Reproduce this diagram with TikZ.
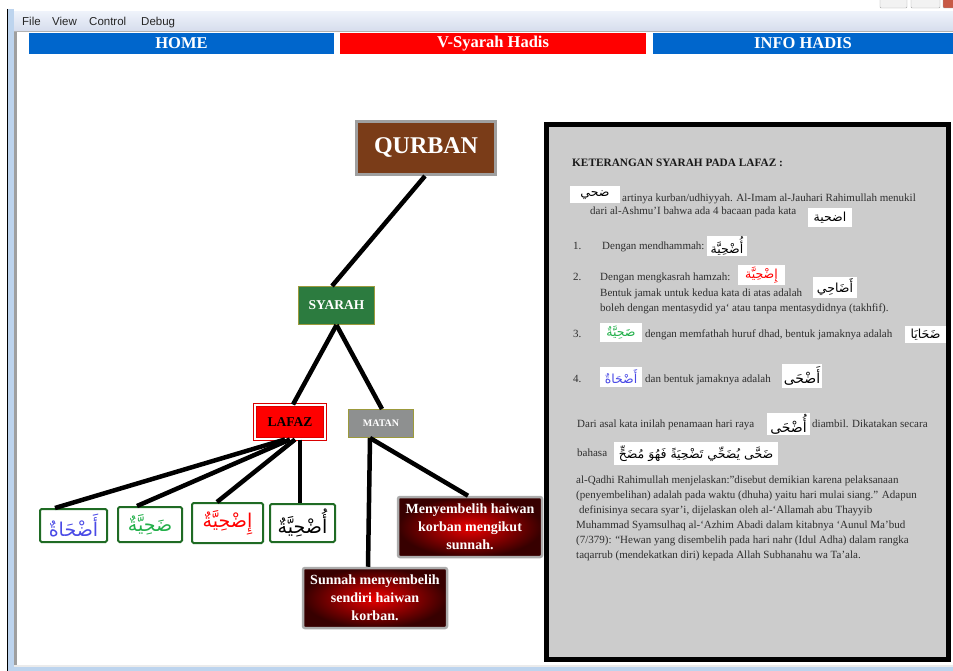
\documentclass[tikz,border=0pt]{standalone}
\usepackage{fontspec}
\setmainfont{Liberation Serif}
\newfontfamily\arabicfont[Script=Arabic]{DejaVu Sans}
\newfontfamily\uifont{Liberation Sans}
\TeXXeTstate=1
\usetikzlibrary{calc}
\definecolor{tabblue}{HTML}{0066CC}
\definecolor{tabred}{HTML}{FF0000}
\definecolor{qbrown}{HTML}{7A3C18}
\definecolor{sgreen}{HTML}{2C7B3F}
\definecolor{olivec}{HTML}{9C9A3C}
\definecolor{mgray}{HTML}{8E9090}
\definecolor{panelgray}{HTML}{CCCCCC}
\definecolor{frameblue}{HTML}{BDD4EE}
\definecolor{txt}{HTML}{2E2E2E}
\definecolor{aboxc}{HTML}{1F6B24}
\definecolor{arblue}{HTML}{4A4AE6}
\definecolor{argreen}{HTML}{22B04A}
\definecolor{menutop}{HTML}{EEF2FA}
\definecolor{menubot}{HTML}{D6DDED}
\newcommand\arword[1]{{\arabicfont\beginR #1\endR}}
\begin{document}
\begin{tikzpicture}[x=1pt,y=-1pt,
  tabbox/.style={minimum height=21pt, inner sep=0pt, text=white,
    font=\bfseries\fontsize{16.5}{16.5}\selectfont},
  conn/.style={line width=4.5pt, black},
  arbig/.style={draw=aboxc, line width=2pt, fill=white, rounded corners=1.5pt,
    inner sep=0pt, font=\arabicfont\fontsize{19}{19}\selectfont},
  gradbox/.style={rounded corners=2pt, draw=gray!65, line width=2.5pt,
    inner color={rgb,255:red,235;green,0;blue,0},
    outer color={rgb,255:red,55;green,0;blue,0},
    minimum width=144pt, minimum height=60pt, align=center,
    text=white, font=\bfseries\fontsize{14}{18}\selectfont, inner sep=0pt},
  arin/.style={fill=white, inner sep=0pt, text=black,
    font=\arabicfont\fontsize{12.5}{12.5}\selectfont},
  ptxt/.style={anchor=base west, inner sep=0pt, text=txt,
    font=\fontsize{11}{11}\selectfont},
  menu/.style={anchor=base west, inner sep=0pt, text=black!85,
    font=\uifont\fontsize{11.5}{11.5}\selectfont}
]
\useasboundingbox (0,0) rectangle (953,671);
% ---------- window chrome ----------
\fill[white] (0,0) rectangle (953,671);
\shade[top color=menutop, bottom color=menubot] (14,12) rectangle (953,31);
\draw[gray!60, line width=1pt] (14,31.5) -- (953,31.5);
\fill[frameblue] (8,9) rectangle (14,671);
\fill[frameblue] (8,667) rectangle (953,671);
\fill[black!8] (14,665) rectangle (953,667);
\fill[gray!75] (14,32) rectangle (16.5,665);
\draw[black, line width=1.2pt] (7.5,9) -- (7.5,671);
\draw[gray!70, fill=gray!10, rounded corners=1pt] (880,-2) rectangle (907,8);
\draw[gray!70, fill=gray!10, rounded corners=1pt] (911,-2) rectangle (940,8);
\draw[gray!70, fill={rgb,255:red,200;green,90;blue,70}, rounded corners=1pt] (943,-2) rectangle (956,8);
\node[menu] (mfile) at (22,26) {File};
\node[menu] (mview) at (52,26) {View};
\node[menu] (mcontrol) at (89,26) {Control};
\node[menu] (mdebug) at (141,26) {Debug};
% ---------- tabs ----------
\node[tabbox, fill=tabblue, minimum width=305pt] (home) at (181.5,43.5) {HOME};
\node[tabbox, fill=tabred, minimum width=306pt] (vsyarah) at (493,43.5) {V-Syarah Hadis};
\node[tabbox, fill=tabblue, minimum width=300pt] (info) at (803,43.5) {INFO HADIS};
% ---------- tree ----------
\node[fill=qbrown, draw=gray!75, line width=3pt, minimum width=139pt, minimum height=53pt,
  text=white, font=\bfseries\fontsize{24}{24}\selectfont] (qurban) at (426,148) {QURBAN};
\node[fill=sgreen, draw=olivec, line width=1pt, minimum width=76pt, minimum height=38pt,
  text=white, font=\bfseries\fontsize{13.5}{13.5}\selectfont] (syarah) at (336.5,305.5) {SYARAH};
\node[fill=red, draw=red!85!black, double=white, double distance=2pt, line width=1pt,
  minimum width=70pt, minimum height=34pt, inner sep=0pt,
  text=black, font=\bfseries\fontsize{13.5}{13.5}\selectfont] (lafaz) at (290,422) {LAFAZ};
\node[fill=mgray, draw=olivec, line width=1pt, minimum width=65pt, minimum height=28pt,
  inner sep=0pt, text=white, font=\bfseries\fontsize{10}{10}\selectfont] (matan) at (381,423.5) {MATAN};
\node[arbig, minimum width=67pt, minimum height=33pt, text=arblue] (b1) at (73.5,525.5) {\arword{أَضْحَاةٌ}};
\node[arbig, minimum width=64pt, minimum height=35pt, text=argreen] (b2) at (150,524.5) {\arword{ضَحِيَّةٌ}};
\node[arbig, minimum width=71pt, minimum height=40pt, text=red] (b3) at (227.5,523) {\arword{إِضْحِيَّةٌ}};
\node[arbig, minimum width=65pt, minimum height=38pt, text=black] (b4) at (302.5,523) {\arword{أُضْحِيَّةٌ}};
\node[gradbox] (mengikut) at (470,527) {Menyembelih haiwan\\korban mengikut\\sunnah.};
\node[gradbox] (sendiri) at (375,598) {Sunnah menyembelih\\sendiri haiwan\\korban.};
% connectors
\draw[conn] ([xshift=-1pt]qurban.south) -- ([xshift=-4.5pt]syarah.north);
\draw[conn] (syarah.south) -- ([xshift=3pt]lafaz.north);
\draw[conn] (syarah.south) -- ([xshift=1pt]matan.north);
\draw[conn] ([xshift=-5pt]lafaz.south) -- ([xshift=-18.5pt]b1.north);
\draw[conn] ([xshift=0pt]lafaz.south) -- ([xshift=-13pt]b2.north);
\draw[conn] ([xshift=5pt]lafaz.south) -- ([xshift=-10.5pt]b3.north);
\draw[conn] ([xshift=10pt]lafaz.south) -- ([xshift=-2.5pt]b4.north);
\draw[conn] ([xshift=-11pt]matan.south) -- ([xshift=-7pt]sendiri.north);
\draw[conn] ([xshift=-11pt]matan.south) -- ([xshift=-2pt]mengikut.north);
% ---------- panel ----------
\node[fill=panelgray, draw=black, line width=5pt, minimum width=402pt, minimum height=535pt,
  inner sep=0pt] (panel) at (747.5,392) {};
\node[ptxt, font=\bfseries\fontsize{11.3}{11.3}\selectfont, text=black!90] (head) at (572,167) {KETERANGAN SYARAH PADA LAFAZ :};
\node[arin, minimum width=50pt, minimum height=17pt] (a1) at (595,195) {\arword{ضحي}};
\node[ptxt] (t1) at (622,202) {artinya kurban/udhiyyah. Al-Imam al-Jauhari Rahimullah menukil};
\node[ptxt] (t2) at (590,214.5) {dari al-Ashmu’I bahwa ada 4 bacaan pada kata};
\node[arin, minimum width=44pt, minimum height=19pt] (a2) at (830,217.5) {\arword{اضحية}};
\node[ptxt] (n1) at (573,249) {1.};
\node[ptxt] (t3) at (602,249) {Dengan mendhammah:};
\node[arin, minimum width=40pt, minimum height=20pt] (a3) at (727,246) {\arword{أُضْحِيَّة}};
\node[ptxt] (n2) at (573,280) {2.};
\node[ptxt] (t4) at (600,280) {Dengan mengkasrah hamzah:};
\node[arin, minimum width=47pt, minimum height=20pt, text=red] (a4) at (761.5,275) {\arword{إِضْحِيَّة}};
\node[ptxt] (t5) at (600,296) {Bentuk jamak untuk kedua kata di atas adalah};
\node[arin, minimum width=44pt, minimum height=21pt] (a5) at (835,287) {\arword{أَضَاحِي}};
\node[ptxt] (t6) at (600,311) {boleh dengan mentasydid ya` atau tanpa mentasydidnya (takhfif).};
\node[ptxt] (n3) at (573,337) {3.};
\node[arin, minimum width=42pt, minimum height=19pt, text=argreen] (a6) at (621,332.5) {\arword{ضَحِيَّةٌ}};
\node[ptxt] (t7) at (645,337) {dengan memfathah huruf dhad, bentuk jamaknya adalah};
\node[arin, minimum width=41pt, minimum height=17pt] (a7) at (925.5,334.5) {\arword{ضَحَايَا}};
\node[ptxt] (n4) at (573,382) {4.};
\node[arin, minimum width=42pt, minimum height=20pt, text=arblue] (a8) at (621,377) {\arword{أَضْحَاةٌ}};
\node[ptxt] (t8) at (645,382) {dan bentuk jamaknya adalah};
\node[arin, minimum width=40pt, minimum height=24pt, font=\arabicfont\fontsize{14}{14}\selectfont] (a9) at (802,376) {\arword{أَضْحَى}};
\node[ptxt] (t9) at (577,427) {Dari asal kata inilah penamaan hari raya};
\node[arin, minimum width=43pt, minimum height=22pt, font=\arabicfont\fontsize{14}{14}\selectfont] (a10) at (788.5,424) {\arword{أُضْحَى}};
\node[ptxt] (t10) at (812,427) {diambil. Dikatakan secara};
\node[ptxt] (t11) at (577,456) {bahasa};
\node[arin, minimum width=164pt, minimum height=23pt] (a11) at (696,453.5) {\arword{ضَحَّى يُضَحِّي تَضْحِيَةً فَهُوَ مُضَحٍّ}};
\node[ptxt] (p1) at (576,483) {al-Qadhi Rahimullah menjelaskan:”disebut demikian karena pelaksanaan};
\node[ptxt] (p2) at (576,498) {(penyembelihan) adalah pada waktu (dhuha) yaitu hari mulai siang.” Adapun};
\node[ptxt] (p3) at (579,513) {definisinya secara syar’i, dijelaskan oleh al-‘Allamah abu Thayyib};
\node[ptxt] (p4) at (576,528) {Muhammad Syamsulhaq al-‘Azhim Abadi dalam kitabnya ‘Aunul Ma’bud};
\node[ptxt] (p5) at (576,543) {(7/379): “Hewan yang disembelih pada hari nahr (Idul Adha) dalam rangka};
\node[ptxt] (p6) at (576,558) {taqarrub (mendekatkan diri) kepada Allah Subhanahu wa Ta’ala.};
\end{tikzpicture}
\end{document}
